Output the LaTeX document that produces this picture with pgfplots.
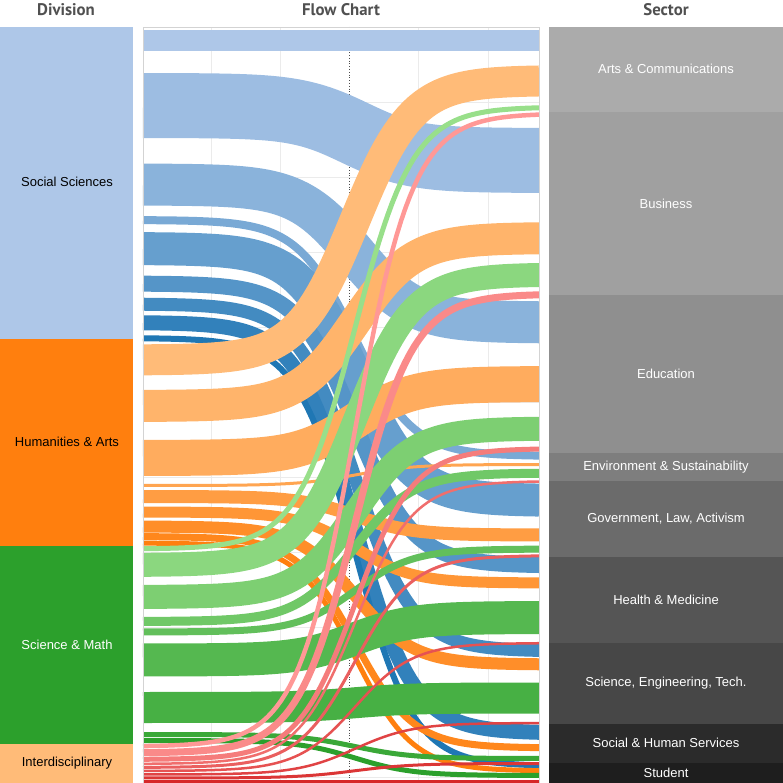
\documentclass[border=0pt]{standalone}
\usepackage{pgfplots}
\pgfplotsset{compat=1.18}
\usepackage{fontspec}
\setmainfont{Liberation Sans}
\newfontfamily\titlefont{PT Sans}
\definecolor{ssL}{HTML}{AEC7E8}\definecolor{ssD}{HTML}{1F77B4}
\definecolor{huL}{HTML}{FFBB78}\definecolor{huD}{HTML}{FF7F0E}
\definecolor{scL}{HTML}{98DF8A}\definecolor{scD}{HTML}{2CA02C}
\definecolor{idL}{HTML}{FF9896}\definecolor{idD}{HTML}{D62728}
\definecolor{barSS}{HTML}{AEC7E8}\definecolor{barHU}{HTML}{FF7F0E}
\definecolor{barSC}{HTML}{2CA02C}\definecolor{barID}{HTML}{FFBB78}
\definecolor{g1}{HTML}{ABABAB}\definecolor{g2}{HTML}{A0A0A0}\definecolor{g3}{HTML}{8F8F8F}
\definecolor{g4}{HTML}{7E7E7E}\definecolor{g5}{HTML}{6B6B6B}\definecolor{g6}{HTML}{555555}
\definecolor{g7}{HTML}{474747}\definecolor{g8}{HTML}{2B2B2B}\definecolor{g9}{HTML}{1E1E1E}
\definecolor{titlegray}{HTML}{505050}
\definecolor{gridc}{HTML}{EBEBEB}
\definecolor{framec}{HTML}{D3D3D3}
% flow: left centre, right centre, width (px), colour
\newcommand{\flow}[4]{\addplot[line width=#3pt, color=#4, domain=143:539, samples=90, forget plot] {#1+(#2-#1)/(1+exp(-(x-355)/29))};}
\newcommand{\rect}[5]{\addplot[fill=#5, draw=none, forget plot] coordinates {(#1,#3) (#2,#3) (#2,#4) (#1,#4)} -- cycle;}
\begin{document}
\begin{tikzpicture}
\useasboundingbox (0,0) rectangle (783pt,783pt);
\begin{axis}[at={(391.5pt,391.5pt)}, anchor=center,
  width=783pt, height=783pt, scale only axis,
  xmin=0, xmax=783, ymin=0, ymax=783, y dir=reverse,
  hide axis, clip=false]
% left bars (Division)
\rect{0}{133}{27}{339}{barSS}
\rect{0}{133}{339}{546}{barHU}
\rect{0}{133}{546}{744}{barSC}
\rect{0}{133}{744}{783}{barID}
% right bars (Sector)
\rect{549}{783}{27}{112}{g1}
\rect{549}{783}{112}{295}{g2}
\rect{549}{783}{295}{453}{g3}
\rect{549}{783}{453}{481}{g4}
\rect{549}{783}{481}{557}{g5}
\rect{549}{783}{557}{643}{g6}
\rect{549}{783}{643}{724}{g7}
\rect{549}{783}{724}{763}{g8}
\rect{549}{783}{763}{783}{g9}
% grid of middle panel
\foreach \yy in {102,177,252,327,402,477,552,627,702,777}{
  \edef\tmp{\noexpand\addplot[gridc, line width=0.8pt, forget plot] coordinates {(143,\yy) (539,\yy)};}\tmp}
\foreach \xx in {211,280,418,488}{
  \edef\tmp{\noexpand\addplot[gridc, line width=0.8pt, forget plot] coordinates {(\xx,27) (\xx,783)};}\tmp}
\addplot[black!70, dotted, line width=0.8pt, forget plot] coordinates {(349,27) (349,783)};
% Social Sciences flows
\flow{40.5}{40.5}{21}{ssL}
\flow{105.5}{160.5}{65}{ssD!12!ssL}
\flow{184.5}{322.5}{42}{ssD!25!ssL}
\flow{220}{456}{8}{ssD!37!ssL}
\flow{248.5}{500.5}{33}{ssD!50!ssL}
\flow{283.5}{565.5}{16}{ssD!62!ssL}
\flow{304}{651}{13}{ssD!75!ssL}
\flow{322.5}{733}{15}{ssD!87!ssL}
\flow{338}{766}{6}{ssD}
% Humanities & Arts flows
\flow{360}{80.5}{31}{huL}
\flow{406}{238}{32}{huD!12!huL}
\flow{458}{384}{36}{huD!25!huL}
\flow{485.5}{464.5}{3}{huD!37!huL}
\flow{496.5}{535}{13}{huD!50!huL}
\flow{512}{583}{11}{huD!62!huL}
\flow{526.5}{664.5}{12}{huD!75!huL}
\flow{536.5}{748}{7}{huD!87!huL}
\flow{543}{771}{5}{huD}
% Science & Math flows
\flow{549}{107}{5}{scL}
\flow{565}{274.5}{24}{scD!12!scL}
\flow{597}{428.5}{24}{scD!25!scL}
\flow{621.5}{473}{9}{scD!37!scL}
\flow{632}{549}{7}{scD!50!scL}
\flow{660}{617.5}{33}{scD!62!scL}
\flow{707.5}{698}{31}{scD!75!scL}
\flow{734.5}{758.5}{5}{scD!87!scL}
\flow{740.5}{775.5}{5}{scD}
% Interdisciplinary flows
\flow{746.5}{113.5}{4.5}{idL}
\flow{753}{294}{7}{idD!12!idL}
\flow{759.5}{448.5}{5}{idD!25!idL}
\flow{764}{481}{2.5}{idD!37!idL}
\flow{767.5}{555.5}{3}{idD!50!idL}
\flow{771}{643}{2.5}{idD!62!idL}
\flow{774.5}{723}{2.5}{idD!75!idL}
\flow{778}{763.5}{3}{idD!87!idL}
\flow{781}{781}{3}{idD}
% frame of middle panel
\addplot[framec, line width=0.8pt, forget plot] coordinates {(143,27) (539,27) (539,783) (143,783)} -- cycle;
% titles
\node[font=\titlefont\bfseries\fontsize{16.8}{18}\selectfont, text=titlegray] at (axis cs:66,10) {Division};
\node[font=\titlefont\bfseries\fontsize{16.8}{18}\selectfont, text=titlegray] at (axis cs:341,10) {Flow Chart};
\node[font=\titlefont\bfseries\fontsize{16.8}{18}\selectfont, text=titlegray] at (axis cs:666,10) {Sector};
% labels
\begin{scope}[every node/.style={font=\fontsize{13}{15}\selectfont}]
\node[text=black] at (axis cs:67,182) {Social Sciences};
\node[text=black] at (axis cs:67,442) {Humanities \& Arts};
\node[text=white] at (axis cs:67,645) {Science \& Math};
\node[text=black] at (axis cs:67,763) {Interdisciplinary};
\node[text=white] at (axis cs:666,69) {Arts \& Communications};
\node[text=white] at (axis cs:666,204) {Business};
\node[text=white] at (axis cs:666,374) {Education};
\node[text=white] at (axis cs:666,467) {Environment \& Sustainability};
\node[text=white] at (axis cs:666,519) {Government, Law, Activism};
\node[text=white] at (axis cs:666,600) {Health \& Medicine};
\node[text=white] at (axis cs:666,683) {Science, Engineering, Tech.};
\node[text=white] at (axis cs:666,743) {Social \& Human Services};
\node[text=white] at (axis cs:666,773) {Student};
\end{scope}
\end{axis}
\end{tikzpicture}
\end{document}
